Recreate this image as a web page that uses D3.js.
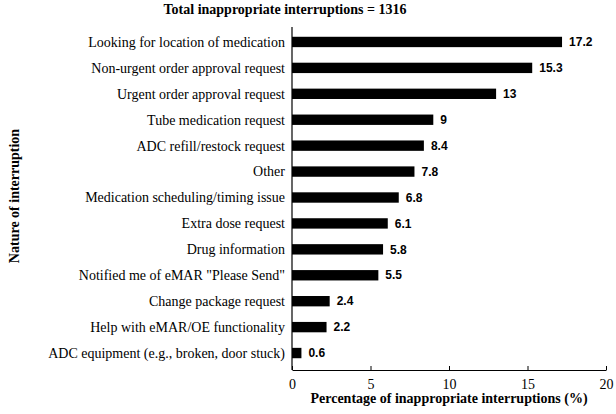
<!DOCTYPE html>
<html><head><meta charset="utf-8">
<script src="https://cdn.jsdelivr.net/npm/d3@7"></script>
<style>body{margin:0;background:#fff}</style>
</head><body><svg id="c" width="616" height="414"></svg>
<script>
const categories = [
  "Looking for location of medication",
  "Non-urgent order approval request",
  "Urgent order approval request",
  "Tube medication request",
  "ADC refill/restock request",
  "Other",
  "Medication scheduling/timing issue",
  "Extra dose request",
  "Drug information",
  "Notified me of eMAR \"Please Send\"",
  "Change package request",
  "Help with eMAR/OE functionality",
  "ADC equipment (e.g., broken, door stuck)"
];
const values = [17.2, 15.3, 13, 9, 8.4, 7.8, 6.8, 6.1, 5.8, 5.5, 2.4, 2.2, 0.6];
const valueLabels = ["17.2","15.3","13","9","8.4","7.8","6.8","6.1","5.8","5.5","2.4","2.2","0.6"];
const xTicks = [0, 5, 10, 15, 20];
const title = "Total inappropriate interruptions = 1316";
const xTitle = "Percentage of inappropriate interruptions (%)";
const yTitle = "Nature of interruption";

(function () {
const svg = d3.select("#c");
const mL = 292, mR = 606, mT = 29, mB = 366, axisY = 370;
const serif = "'Liberation Serif', 'Times New Roman', serif";
const sans = "'Liberation Sans', Arial, sans-serif";

const x = d3.scaleLinear().domain([0, 20]).range([mL, mR]);
const y = d3.scaleBand().domain(categories).range([mT, mB]).paddingInner(0.6).paddingOuter(0.3);

svg.append("g").selectAll("rect").data(categories).join("rect")
  .attr("x", x(0)).attr("y", d => y(d))
  .attr("width", (d, i) => x(values[i]) - x(0))
  .attr("height", y.bandwidth())
  .attr("fill", "#000");

svg.append("g").selectAll("text").data(categories).join("text")
  .attr("x", (d, i) => x(values[i]) + 7)
  .attr("y", d => y(d) + y.bandwidth() / 2)
  .attr("dy", "0.35em")
  .attr("font-family", sans).attr("font-weight", "bold").attr("font-size", 12)
  .text((d, i) => valueLabels[i]);

svg.append("g").selectAll("text").data(categories).join("text")
  .attr("x", mL - 7)
  .attr("y", d => y(d) + y.bandwidth() / 2)
  .attr("dy", "0.35em")
  .attr("text-anchor", "end")
  .attr("font-family", serif).attr("font-size", 14)
  .text(d => d);

svg.append("line").attr("x1", mL).attr("x2", mL).attr("y1", 27).attr("y2", axisY)
  .attr("stroke", "#000").attr("stroke-width", 1.2);

const xAxis = svg.append("g").attr("transform", `translate(0,${axisY})`)
  .call(d3.axisBottom(x).tickValues(xTicks).tickSize(-4).tickSizeOuter(0).tickPadding(9));
xAxis.select(".domain").attr("stroke-width", 1.2);
xAxis.selectAll("text").attr("font-family", serif).attr("font-size", 14).attr("fill", "#000");

svg.append("text").attr("x", 285).attr("y", 14).attr("text-anchor", "middle")
  .attr("font-family", serif).attr("font-weight", "bold").attr("font-size", 14).text(title);
svg.append("text").attr("x", 449).attr("y", 403).attr("text-anchor", "middle")
  .attr("font-family", serif).attr("font-weight", "bold").attr("font-size", 14).text(xTitle);
svg.append("text").attr("transform", "translate(19,196) rotate(-90)").attr("text-anchor", "middle")
  .attr("font-family", serif).attr("font-weight", "bold").attr("font-size", 14).text(yTitle);
})();
</script>
</body></html>
